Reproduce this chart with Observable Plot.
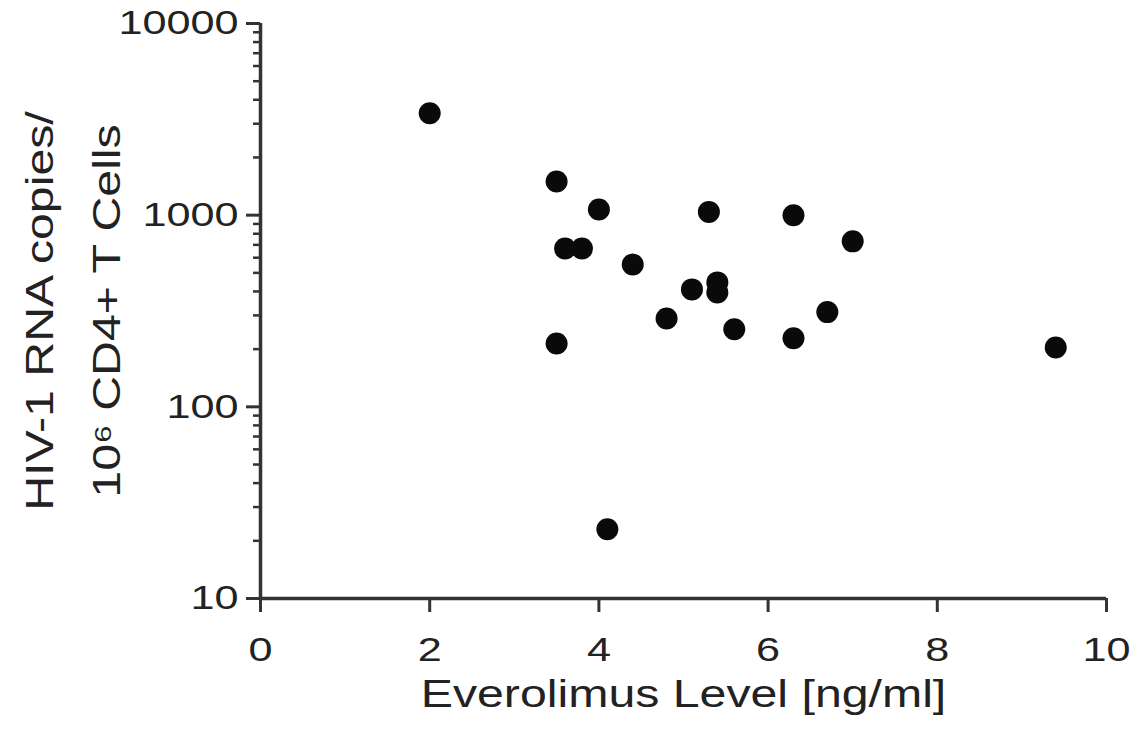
<!DOCTYPE html>
<html>
<head>
<meta charset="utf-8">
<script src="https://cdn.jsdelivr.net/npm/d3@7"></script>
<script src="https://cdn.jsdelivr.net/npm/@observablehq/plot@0.6"></script>
<style>
  html, body { margin: 0; padding: 0; background: #fff; }
</style>
</head>
<body>
<div id="chart"></div>
<script>
// Data
const everolimus = [2.0, 3.5, 4.0, 5.3, 6.3, 7.0, 3.6, 3.8, 4.4, 5.1, 5.4, 5.4, 4.8, 5.6, 6.7, 3.5, 6.3, 9.4, 4.1];
const hivRna     = [3400, 1500, 1070, 1040, 1000, 730, 670, 670, 553, 410, 446, 395, 289, 254, 312, 214, 228, 204, 23];

const xTicks = [0, 2, 4, 6, 8, 10];
const yTicks = [10, 100, 1000, 10000];
const yMinorTicks = [20, 30, 40, 50, 60, 70, 80, 90, 200, 300, 400, 500, 600, 700, 800, 900, 2000, 3000, 4000, 5000, 6000, 7000, 8000, 9000];

const xLabel = "Everolimus Level [ng/ml]";
const yLabelLine1 = "HIV-1 RNA copies/";
const yLabelLine2 = "10\u2076 CD4+ T Cells";

const points = everolimus.map((x, i) => ({x, y: hivRna[i]}));

const ink = "#222";
const axisInk = "#333";

const chart = Plot.plot({
  width: 1135,
  height: 740,
  marginLeft: 260,
  marginRight: 29,
  marginTop: 23,
  marginBottom: 142,
  style: {fontFamily: "'Liberation Sans', Arial, sans-serif", background: "#fff", color: ink},
  x: {domain: [0, 10]},
  y: {type: "log", domain: [10, 10000]},
  marks: [
    Plot.axisY({ticks: yMinorTicks, tickSize: 7, fill: "none", strokeWidth: 2.5, stroke: axisInk, label: null}),
    Plot.axisY({ticks: yTicks, tickSize: 14, tickPadding: 8, tickFormat: d => String(d), fontSize: 34, strokeWidth: 3, stroke: axisInk, fill: ink, label: null}),
    Plot.axisX({ticks: xTicks, tickSize: 14, tickPadding: 24, tickFormat: d => String(d), fontSize: 34, strokeWidth: 3, stroke: axisInk, fill: ink, label: null}),
    Plot.ruleX([0], {stroke: axisInk, strokeWidth: 3.5}),
    Plot.ruleY([10], {stroke: axisInk, strokeWidth: 3.5}),
    Plot.dot(points, {x: "x", y: "y", r: 11, fill: "#0a0a0a", stroke: "none"}),
    Plot.text([xLabel], {text: d => d, frameAnchor: "bottom", lineAnchor: "middle", textAnchor: "middle", dy: 96, fontSize: 38, fill: ink}),
    Plot.text([yLabelLine1], {text: d => d, frameAnchor: "left", textAnchor: "middle", lineAnchor: "middle", dx: -220, rotate: -90, fontSize: 38, fill: ink}),
    Plot.text([yLabelLine2], {text: d => d, frameAnchor: "left", textAnchor: "middle", lineAnchor: "middle", dx: -153, rotate: -90, fontSize: 38, fill: ink})
  ]
});

// The reference lettering is horizontally stretched; widen glyphs along the text direction.
chart.querySelectorAll("text").forEach(t => {
  const tr = t.getAttribute("transform") || "";
  t.setAttribute("transform", `${tr} scale(1.27,1)`.trim());
});

document.getElementById("chart").appendChild(chart);
</script>
</body>
</html>
